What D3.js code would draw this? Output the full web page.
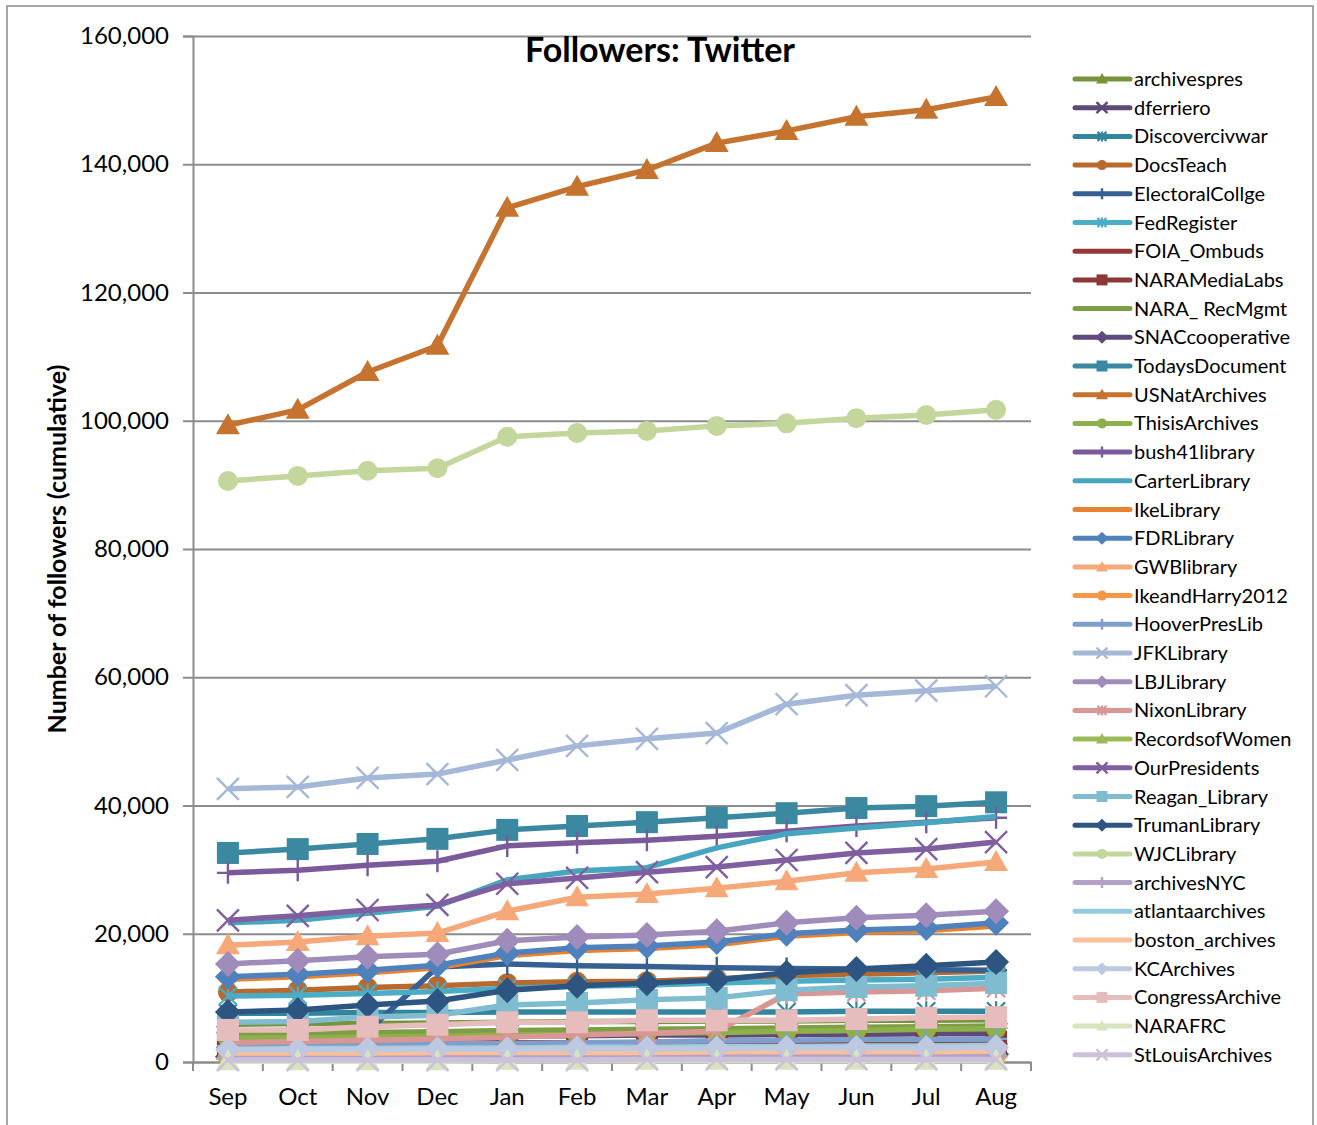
<!DOCTYPE html>
<html>
<head>
<meta charset="utf-8">
<script src="https://cdn.jsdelivr.net/npm/d3@7"></script>
<style>
  body { margin: 0; background: #fff; }
  text { font-family: Lato, "Open Sans", sans-serif; fill: #000; }
</style>
</head>
<body>
<div id="chart"></div>
<script>
// months on the category axis
const months = ["Sep", "Oct", "Nov", "Dec", "Jan", "Feb", "Mar", "Apr", "May", "Jun", "Jul", "Aug"];
const yTicks = [0, 20000, 40000, 60000, 80000, 100000, 120000, 140000, 160000];

// followers per account
const archivespres    = [5900, 6000, 6000, 6100, 6200, 6300, 6300, 6400, 6400, 6500, 6500, 6600];
const dferriero       = [3900, 3900, 4000, 4000, 4100, 4100, 4200, 4200, 4300, 4300, 4400, 4400];
const Discovercivwar  = [7600, 7600, 7700, 7700, 7800, 7800, 7800, 7800, 7800, 7900, 7900, 7900];
const DocsTeach       = [10900, 11200, 11600, 11900, 12300, 12500, 12600, 13000, 13500, 13700, 13900, 14200];
const ElectoralCollge = [2900, 3100, 4800, 14800, 15300, 15000, 14900, 14700, 14600, 14500, 14400, 14300];
const FedRegister     = [10300, 10400, 10700, 11000, 11500, 11800, 12000, 12300, 12600, 12800, 12900, 13200];
const FOIA_Ombuds     = [1200, 1200, 1200, 1200, 1300, 1300, 1300, 1300, 1300, 1300, 1300, 1400];
const NARAMediaLabs   = [2800, 2800, 2900, 2900, 3000, 3000, 3000, 3100, 3100, 3100, 3200, 3200];
const NARA_RecMgmt    = [4400, 4500, 4600, 4700, 4900, 5000, 5100, 5200, 5300, 5400, 5500, 5600];
const SNACcooperative = [800, 800, 900, 900, 900, 1000, 1000, 1000, 1100, 1100, 1100, 1200];
const TodaysDocument  = [32600, 33200, 34000, 34800, 36200, 36800, 37400, 38100, 38800, 39600, 39900, 40500];
const USNatArchives   = [99300, 101700, 107600, 111700, 133200, 136500, 139100, 143300, 145200, 147400, 148500, 150500];
const ThisisArchives  = [3700, 3800, 3900, 4000, 4200, 4300, 4500, 4600, 4800, 4900, 5100, 5200];
const bush41library   = [29500, 29900, 30700, 31300, 33700, 34200, 34600, 35200, 36000, 36800, 37400, 38100];
const CarterLibrary   = [21700, 22100, 23200, 24300, 28400, 29800, 30300, 33400, 35600, 36500, 37300, 38300];
const IkeLibrary      = [12900, 13300, 13900, 14700, 16600, 17400, 17700, 18300, 19600, 20200, 20500, 21200];
const FDRLibrary      = [13300, 13700, 14300, 15100, 17000, 17800, 18100, 18700, 20000, 20600, 20900, 21700];
const GWBlibrary      = [18200, 18700, 19600, 20100, 23500, 25700, 26200, 27100, 28200, 29500, 30100, 31200];
const IkeandHarry2012 = [900, 900, 900, 900, 900, 900, 900, 900, 900, 900, 900, 1000];
const HooverPresLib   = [2500, 2600, 2700, 2800, 2900, 3000, 3100, 3300, 3400, 3500, 3500, 3600];
const JFKLibrary      = [42600, 42900, 44300, 44900, 47100, 49300, 50400, 51300, 55800, 57200, 57900, 58600];
const LBJLibrary      = [15300, 15800, 16400, 16800, 18900, 19500, 19800, 20400, 21700, 22500, 22900, 23500];
const NixonLibrary    = [3000, 3200, 3400, 3600, 3900, 4200, 4500, 4800, 10600, 10900, 11100, 11500];
const RecordsofWomen  = [1700, 1700, 1800, 1800, 1900, 1900, 2000, 2000, 2000, 2100, 2100, 2100];
const OurPresidents   = [22100, 22800, 23700, 24500, 27800, 28700, 29600, 30400, 31500, 32600, 33200, 34300];
const Reagan_Library  = [6200, 6300, 7000, 7300, 8900, 9200, 9700, 10000, 11200, 11700, 11900, 12300];
const TrumanLibrary   = [7800, 8100, 8900, 9500, 11200, 11900, 12300, 12800, 13900, 14500, 15000, 15600];
const WJCLibrary      = [90600, 91400, 92200, 92600, 97500, 98100, 98400, 99200, 99600, 100400, 100900, 101700];
const archivesNYC     = [600, 600, 600, 700, 700, 700, 700, 800, 800, 800, 800, 900];
const atlantaarchives = [2000, 2100, 2100, 2200, 2200, 2300, 2300, 2400, 2400, 2500, 2500, 2600];
const boston_archives = [1400, 1400, 1400, 1500, 1500, 1500, 1500, 1600, 1600, 1600, 1600, 1700];
const KCArchives      = [1900, 1900, 2000, 2000, 2000, 2100, 2100, 2100, 2200, 2200, 2200, 2300];
const CongressArchive = [5000, 5000, 5500, 5800, 6200, 6200, 6500, 6500, 6500, 6700, 6900, 7000];
const NARAFRC         = [100, 100, 100, 100, 200, 200, 200, 200, 200, 200, 200, 200];
const StLouisArchives = [300, 300, 300, 300, 300, 300, 400, 400, 400, 400, 400, 400];

// name, values, colour, marker
const series = [
  ["archivespres", archivespres, "#77933C", "triangle"],
  ["dferriero", dferriero, "#5F497A", "x"],
  ["Discovercivwar", Discovercivwar, "#31859C", "star"],
  ["DocsTeach", DocsTeach, "#B8692D", "circle"],
  ["ElectoralCollge", ElectoralCollge, "#376092", "plus"],
  ["FedRegister", FedRegister, "#4BACC6", "star"],
  ["FOIA_Ombuds", FOIA_Ombuds, "#953735", null],
  ["NARAMediaLabs", NARAMediaLabs, "#8C3836", "square"],
  ["NARA_ RecMgmt", NARA_RecMgmt, "#7E9E45", null],
  ["SNACcooperative", SNACcooperative, "#604A7B", "diamond"],
  ["TodaysDocument", TodaysDocument, "#3A89A0", "square"],
  ["USNatArchives", USNatArchives, "#C6732F", "triangle"],
  ["ThisisArchives", ThisisArchives, "#8CB04A", "circle"],
  ["bush41library", bush41library, "#7A5A9A", "plus"],
  ["CarterLibrary", CarterLibrary, "#46A6BF", null],
  ["IkeLibrary", IkeLibrary, "#E9822F", null],
  ["FDRLibrary", FDRLibrary, "#4F81BD", "diamond"],
  ["GWBlibrary", GWBlibrary, "#F6A878", "triangle"],
  ["IkeandHarry2012", IkeandHarry2012, "#F79646", "circle"],
  ["HooverPresLib", HooverPresLib, "#7F9ECB", "plus"],
  ["JFKLibrary", JFKLibrary, "#A5B8D8", "x"],
  ["LBJLibrary", LBJLibrary, "#A08CBA", "diamond"],
  ["NixonLibrary", NixonLibrary, "#D99694", "star"],
  ["RecordsofWomen", RecordsofWomen, "#9BBB59", "triangle"],
  ["OurPresidents", OurPresidents, "#7F5FA0", "x"],
  ["Reagan_Library", Reagan_Library, "#7FBCD0", "square"],
  ["TrumanLibrary", TrumanLibrary, "#2E5482", "diamond"],
  ["WJCLibrary", WJCLibrary, "#C3D69B", "circle"],
  ["archivesNYC", archivesNYC, "#B3A2C7", "plus"],
  ["atlantaarchives", atlantaarchives, "#93CDDD", null],
  ["boston_archives", boston_archives, "#FAC09A", null],
  ["KCArchives", KCArchives, "#BCC9E0", "diamond"],
  ["CongressArchive", CongressArchive, "#E6BDBC", "square"],
  ["NARAFRC", NARAFRC, "#D7E4BD", "triangle"],
  ["StLouisArchives", StLouisArchives, "#CCC1DA", "x"]
];

const width = 1317;
const height = 1125;
const margin = { top: 36, right: 286, bottom: 63, left: 193 };

const svg = d3.select("#chart")
  .append("svg")
  .attr("width", width)
  .attr("height", height);

// outer frame
svg.append("rect")
  .attr("x", 7).attr("y", 6)
  .attr("width", 1306).attr("height", 1130)
  .attr("fill", "none")
  .attr("stroke", "#8a8a8a")
  .attr("stroke-width", 1.5);

const x = d3.scaleBand()
  .domain(months)
  .range([margin.left, width - margin.right]);

const y = d3.scaleLinear()
  .domain([0, 160000])
  .range([height - margin.bottom, margin.top]);

const cx = m => x(m) + x.bandwidth() / 2;

// gridlines
svg.append("g")
  .attr("transform", `translate(${margin.left},0)`)
  .call(d3.axisLeft(y).tickValues(yTicks).tickSize(-(width - margin.left - margin.right)).tickFormat(""))
  .call(g => g.select(".domain").remove())
  .selectAll("line")
  .attr("stroke", "#8c8c8c")
  .attr("stroke-width", 2);

// y axis
svg.append("g")
  .attr("transform", `translate(${margin.left},0)`)
  .call(d3.axisLeft(y).tickValues(yTicks).tickSize(10).tickPadding(14).tickFormat(d3.format(",")))
  .call(g => g.select(".domain").attr("stroke", "#8c8c8c").attr("stroke-width", 2))
  .call(g => g.selectAll("line").attr("stroke", "#8c8c8c").attr("stroke-width", 2))
  .call(g => g.selectAll("text").attr("font-size", "24px").attr("font-family", "Lato, sans-serif"));

// x axis
const xg = svg.append("g")
  .attr("transform", `translate(0,${height - margin.bottom})`)
  .call(d3.axisBottom(x).tickSize(0).tickPadding(26))
  .call(g => g.select(".domain").attr("stroke", "#8c8c8c").attr("stroke-width", 2))
  .call(g => g.selectAll("text").attr("font-size", "24px").attr("font-family", "Lato, sans-serif"));

xg.selectAll(".bound")
  .data(months.map(m => x(m)).concat([x.range()[1]]))
  .join("line")
  .attr("x1", d => d).attr("x2", d => d)
  .attr("y1", 0).attr("y2", 9)
  .attr("stroke", "#8c8c8c")
  .attr("stroke-width", 2);

function marker(g, type, color, s) {
  if (!type) return;
  if (type === "circle") {
    g.append("circle").attr("r", 10 * s).attr("fill", color);
  } else if (type === "square") {
    g.append("rect").attr("x", -11 * s).attr("y", -11 * s)
      .attr("width", 22 * s).attr("height", 22 * s).attr("fill", color);
  } else if (type === "triangle") {
    g.append("path").attr("d", `M0,${-12 * s}L${12 * s},${9 * s}L${-12 * s},${9 * s}Z`).attr("fill", color);
  } else if (type === "diamond") {
    g.append("path").attr("d", `M0,${-13 * s}L${13 * s},0L0,${13 * s}L${-13 * s},0Z`).attr("fill", color);
  } else if (type === "x") {
    g.append("path").attr("d", `M${-11 * s},${-11 * s}L${11 * s},${11 * s}M${11 * s},${-11 * s}L${-11 * s},${11 * s}`)
      .attr("stroke", color).attr("stroke-width", 2.4).attr("fill", "none");
  } else if (type === "plus") {
    g.append("path").attr("d", `M0,${-11 * s}L0,${11 * s}M${-11 * s},0L${11 * s},0`)
      .attr("stroke", color).attr("stroke-width", 2.4).attr("fill", "none");
  } else if (type === "star") {
    g.append("path").attr("d", `M${-9 * s},${-9 * s}L${9 * s},${9 * s}M${9 * s},${-9 * s}L${-9 * s},${9 * s}M0,${-10 * s}L0,${10 * s}`)
      .attr("stroke", color).attr("stroke-width", 2.2).attr("fill", "none");
  }
}

const line = d3.line()
  .x((d, i) => cx(months[i]))
  .y(d => y(d));

const plot = svg.append("g");

series.forEach(([name, vals, color, mk]) => {
  const g = plot.append("g");
  g.append("path")
    .datum(vals)
    .attr("d", line)
    .attr("fill", "none")
    .attr("stroke", color)
    .attr("stroke-width", 5.5)
    .attr("stroke-linejoin", "round");
  g.selectAll(".pt")
    .data(vals)
    .join("g")
    .attr("transform", (d, i) => `translate(${cx(months[i])},${y(d)})`)
    .each(function () { marker(d3.select(this), mk, color, 1); });
});

// title
svg.append("text")
  .attr("x", 660).attr("y", 62)
  .attr("text-anchor", "middle")
  .attr("font-size", "34px")
  .attr("font-weight", "bold")
  .text("Followers: Twitter");

// y axis title
svg.append("text")
  .attr("transform", "translate(66,549) rotate(-90)")
  .attr("text-anchor", "middle")
  .attr("font-size", "25px")
  .attr("font-weight", "bold")
  .text("Number of followers  (cumulative)");

// legend
const legend = svg.append("g");
series.forEach(([name, vals, color, mk], i) => {
  const ly = 79 + i * 28.7;
  const g = legend.append("g").attr("transform", `translate(0,${ly})`);
  g.append("line")
    .attr("x1", 1075).attr("x2", 1130)
    .attr("stroke", color).attr("stroke-width", 5)
    .attr("stroke-linecap", "round");
  marker(g.append("g").attr("transform", "translate(1102,0)"), mk, color, 0.5);
  g.append("text")
    .attr("x", 1134).attr("y", 0)
    .attr("dy", "0.35em")
    .attr("font-size", "20px")
    .text(name);
});
</script>
</body>
</html>
